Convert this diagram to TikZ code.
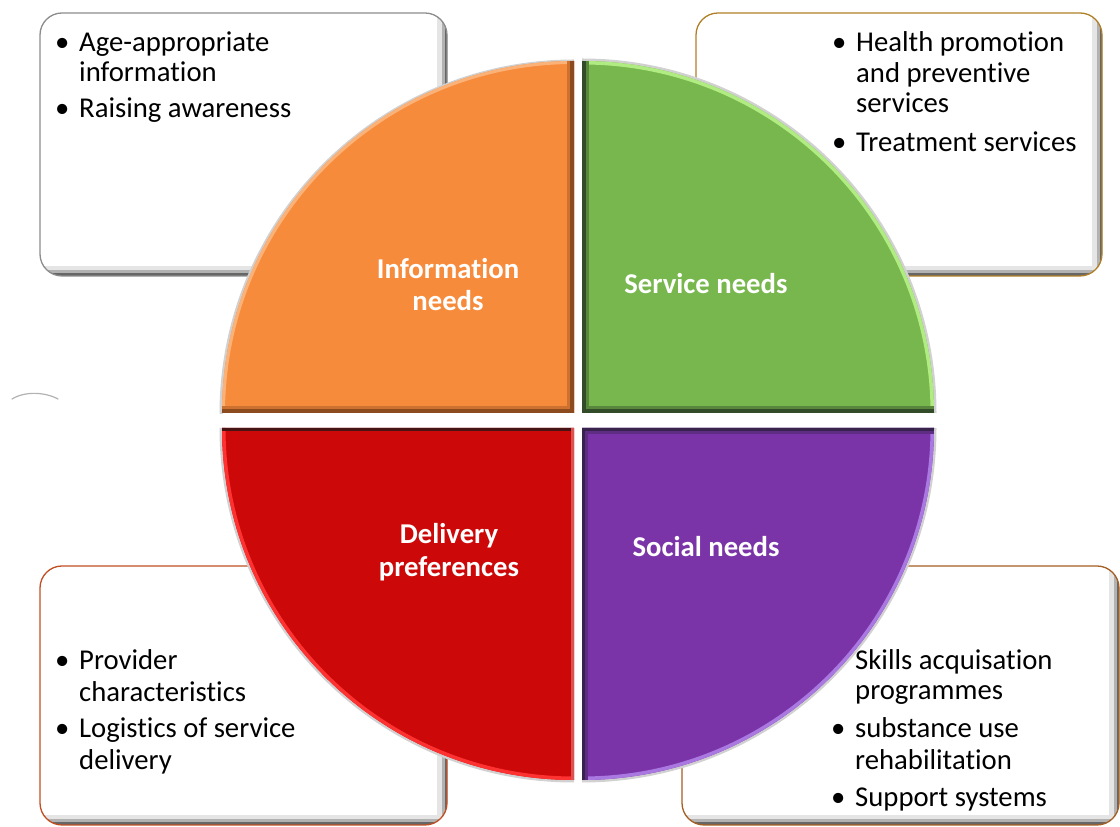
\documentclass[tikz,border=0pt]{standalone}
\usepackage{fontspec}
\setmainfont{Carlito}[Ligatures=NoCommon]
\definecolor{qorange}{RGB}{247,139,60}
\definecolor{qorangeL}{RGB}{251,178,120}
\definecolor{qorangeD}{RGB}{140,75,30}
\definecolor{qgreen}{RGB}{120,183,78}
\definecolor{qgreenL}{RGB}{176,236,130}
\definecolor{qgreenD}{RGB}{50,75,40}
\definecolor{qred}{RGB}{204,8,8}
\definecolor{qredL}{RGB}{255,50,50}
\definecolor{qredD}{RGB}{70,20,20}
\definecolor{qpurple}{RGB}{122,52,168}
\definecolor{qpurpleL}{RGB}{170,120,225}
\definecolor{qpurpleD}{RGB}{55,35,75}
\definecolor{bdgray}{RGB}{140,140,140}
\definecolor{bdgold}{RGB}{176,128,40}
\definecolor{bdorange}{RGB}{192,80,36}
\definecolor{bdbrown}{RGB}{165,95,35}
\newcommand\shbox[5]{%
  \begin{scope}
    \clip[rounded corners=22] (#1,#2) rectangle (#3,#4);
    \fill[white] (#1,#2) rectangle (#3,#4);
    \draw[line width=20, black!10] (#1-20,#2) -- (#3,#2) -- (#3,#4+20);
    \draw[line width=11, black!30] (#1-20,#2) -- (#3,#2) -- (#3,#4+20);
    \draw[line width=5, black!60] (#1-20,#2) -- (#3,#2) -- (#3,#4+20);
  \end{scope}
  \draw[#5, line width=1.3, rounded corners=22] (#1,#2) rectangle (#3,#4);
}
\newcommand\bul{\makebox[24pt][l]{\textbullet}}
\begin{document}
\begin{tikzpicture}[x=1pt,y=1pt,
  txt/.style={inner sep=0pt, anchor=base west, font=\fontsize{28.7}{31}\selectfont},
  lab/.style={inner sep=0pt, anchor=base, text=white, font=\fontsize{28.7}{31}\selectfont\bfseries}]
\useasboundingbox (0,0) rectangle (1120,827);

% text boxes
\shbox{40}{551}{447}{814}{bdgray}
\shbox{696}{551}{1102}{814}{bdgold}
\shbox{40}{2}{447}{261}{bdorange}
\shbox{682}{2}{1119}{261}{bdbrown}

% small grey stroke at left
\draw[black!30, line width=1.2, line cap=round] (12,428) .. controls (25,436) and (45,435) .. (58,428);

% outer halo of the circle
\draw[black!18, line width=3] (574,766) arc[start angle=90,end angle=180,radius=353];
\draw[black!18, line width=3] (935,414) arc[start angle=0,end angle=90,radius=353];
\draw[black!18, line width=3] (221,399) arc[start angle=180,end angle=270,radius=353];
\draw[black!18, line width=3] (582,46) arc[start angle=270,end angle=360,radius=353];

% orange quadrant
\begin{scope}
  \clip (574,414) -- (574,766) arc[start angle=90,end angle=180,radius=352] -- cycle;
  \fill[qorange] (200,400) rectangle (600,780);
  \draw[line width=6, qorangeL] (574,766) arc[start angle=90,end angle=180,radius=352];
  \draw[line width=14, qorangeD!40!qorange] (574,766) -- (574,414) -- (222,414);
  \draw[line width=8, qorangeD] (574,766) -- (574,414) -- (222,414);
\end{scope}

% green quadrant
\begin{scope}
  \clip (582,414) -- (934,414) arc[start angle=0,end angle=90,radius=352] -- cycle;
  \fill[qgreen] (570,400) rectangle (950,780);
  \draw[line width=7, qgreenL] (934,414) arc[start angle=0,end angle=90,radius=352];
  \draw[line width=14, qgreenD!45!qgreen] (582,766) -- (582,414) -- (934,414);
  \draw[line width=7, qgreenD] (582,766) -- (582,414) -- (934,414);
\end{scope}

% red quadrant
\begin{scope}
  \clip (574,399) -- (222,399) arc[start angle=180,end angle=270,radius=352] -- cycle;
  \fill[qred] (200,30) rectangle (600,410);
  \draw[line width=7, qredL] (222,399) arc[start angle=180,end angle=270,radius=352];
  \draw[line width=6, qredD] (222,399) -- (574,399);
  \draw[line width=6, qred!70!white] (574,399) -- (574,47);
\end{scope}

% purple quadrant
\begin{scope}
  \clip (582,399) -- (582,47) arc[start angle=270,end angle=360,radius=352] -- cycle;
  \fill[qpurple] (570,30) rectangle (950,410);
  \draw[line width=7, qpurpleL] (582,47) arc[start angle=270,end angle=360,radius=352];
  \draw[line width=12, qpurpleD!40!qpurple] (582,47) -- (582,399) -- (934,399);
  \draw[line width=6, qpurpleD] (582,47) -- (582,399) -- (934,399);
\end{scope}

% quadrant labels
\node[lab] (infoA) at (448,548) {Information};
\node[lab] (infoB) at (448,516) {needs};
\node[lab] (serv) at (706,533) {Service needs};
\node[lab] (delA) at (449,283) {Delivery};
\node[lab] (delB) at (449,250) {preferences};
\node[lab] (soc) at (706,270) {Social needs};

% top-left box text
\node[txt] (tl1) at (55,775) {\bul Age-appropriate};
\node[txt] (tl2) at (79,745) {information};
\node[txt] (tl3) at (55,709) {\bul Raising awareness};

% top-right box text
\node[txt] (tr1) at (832,775) {\bul Health promotion};
\node[txt] (tr2) at (856,744) {and preventive};
\node[txt] (tr3) at (856,714) {services};
\node[txt] (tr4) at (832,675) {\bul Treatment services};

% bottom-left box text
\node[txt] (bl1) at (55,157) {\bul Provider};
\node[txt] (bl2) at (79,125) {characteristics};
\node[txt] (bl3) at (55,89) {\bul Logistics of service};
\node[txt] (bl4) at (79,57) {delivery};

% bottom-right box text
\node[txt] (br1) at (855,157) {Skills acquisation};
\node[txt] (br2) at (855,127) {programmes};
\node[txt] (br3) at (831,89) {\bul substance use};
\node[txt] (br4) at (855,57) {rehabilitation};
\node[txt] (br5) at (831,20) {\bul Support systems};
\end{tikzpicture}
\end{document}
